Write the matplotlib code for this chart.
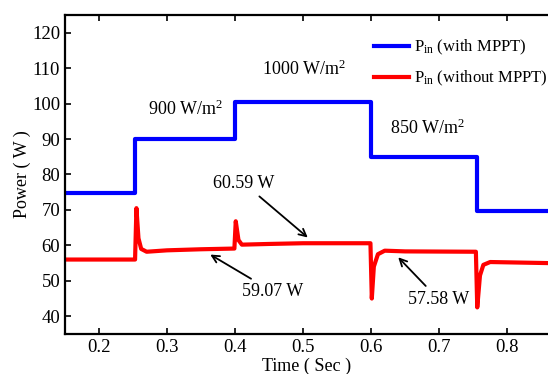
import matplotlib
matplotlib.use('Agg')
import matplotlib.pyplot as plt

plt.rcParams['font.family'] = ['Liberation Serif', 'DejaVu Serif']
plt.rcParams['mathtext.fontset'] = 'custom'
plt.rcParams['mathtext.rm'] = 'Liberation Serif'
plt.rcParams['mathtext.it'] = 'Liberation Serif:italic'

# with MPPT: step levels
t_mppt = [0.15, 0.253, 0.253, 0.4, 0.4, 0.6, 0.6, 0.755, 0.755, 0.86]
p_mppt = [74.7, 74.7, 90.0, 90.0, 100.5, 100.5, 85.0, 85.0, 69.8, 69.8]

# without MPPT: transients
t_plain = [0.15, 0.253, 0.255, 0.258, 0.262, 0.27, 0.3, 0.35, 0.399,
           0.401, 0.405, 0.41, 0.45, 0.5, 0.599,
           0.601, 0.604, 0.61, 0.62, 0.65, 0.754,
           0.756, 0.76, 0.765, 0.775, 0.86]
p_plain = [56.0, 56.0, 70.5, 62.0, 59.0, 58.2, 58.6, 58.9, 59.1,
           66.8, 61.5, 60.2, 60.4, 60.6, 60.6,
           45.0, 54.0, 57.5, 58.5, 58.3, 58.2,
           42.5, 51.5, 54.5, 55.3, 55.0]

fig = plt.figure(figsize=(5.48, 3.74), dpi=100)
ax = fig.add_axes([0.1186, 0.107, 0.8814, 0.853])

ax.plot(t_mppt, p_mppt, color='#0000ff', lw=3, label=r'P$_{\rm in}$ (with MPPT)')
ax.plot(t_plain, p_plain, color='#ff0000', lw=3, label=r'P$_{\rm in}$ (without MPPT)')

ax.set_xlim(0.15, 0.86)
ax.set_ylim(35, 125)
ax.set_xticks([0.2, 0.3, 0.4, 0.5, 0.6, 0.7, 0.8])
ax.set_yticks(range(40, 121, 10))
ax.tick_params(direction='in', top=True, labelsize=13.5, width=1.2, length=4)
for s in ['left', 'top', 'bottom']:
    ax.spines[s].set_linewidth(1.6)
ax.spines['right'].set_visible(False)

ax.set_xlabel('Time ( Sec )', fontsize=13, labelpad=1)
ax.set_ylabel('Power ( W )', fontsize=13, labelpad=1)

ax.text(0.272, 98.3, r'900 W/m$^2$', fontsize=13, va='center')
ax.text(0.44, 109.6, r'1000 W/m$^2$', fontsize=13, va='center')
ax.text(0.628, 93, r'850 W/m$^2$', fontsize=13, va='center')

aprops = dict(arrowstyle='->', color='black', lw=1.3)
ax.annotate('60.59 W', xy=(0.51, 61.7), xytext=(0.368, 77.5), fontsize=13,
            va='center', arrowprops=aprops)
ax.annotate('59.07 W', xy=(0.36, 57.8), xytext=(0.41, 47), fontsize=13,
            va='center', arrowprops=aprops)
ax.annotate('57.58 W', xy=(0.637, 57.2), xytext=(0.654, 44.8), fontsize=13,
            va='center', arrowprops=aprops)

ax.legend(loc='upper right', bbox_to_anchor=(1.03, 0.975), frameon=False,
          fontsize=12, handlelength=2.1, handletextpad=0.3, labelspacing=0.7)

fig.savefig('out.png', dpi=100)
